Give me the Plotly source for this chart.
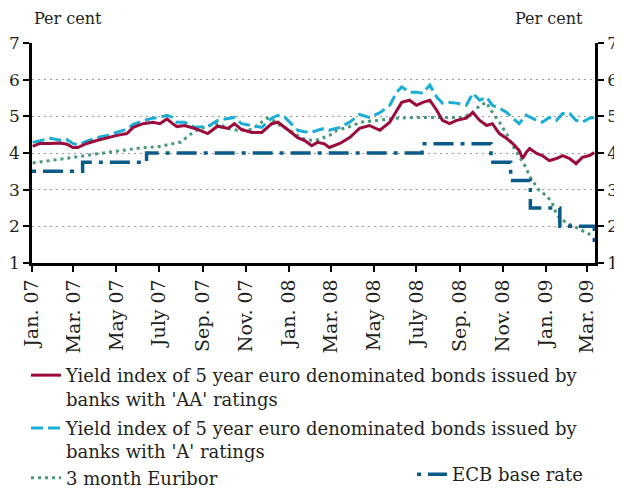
import plotly.graph_objects as go

# Yield index, banks rated 'AA' (per cent)
aa_fechas = [
    "2007-01-02", "2007-01-12", "2007-01-27", "2007-02-10", "2007-02-20", "2007-02-28",
    "2007-03-07", "2007-03-20", "2007-04-03", "2007-04-18", "2007-05-02", "2007-05-16",
    "2007-05-25", "2007-06-08", "2007-06-22", "2007-07-02", "2007-07-12", "2007-07-20",
    "2007-07-26", "2007-08-06", "2007-08-21", "2007-09-08", "2007-09-22", "2007-10-07",
    "2007-10-16", "2007-10-26", "2007-11-10", "2007-11-24", "2007-12-08", "2007-12-17",
    "2007-12-27", "2008-01-05", "2008-01-14", "2008-01-24", "2008-02-03", "2008-02-11",
    "2008-02-21", "2008-02-28", "2008-03-14", "2008-03-28", "2008-04-11", "2008-04-25",
    "2008-05-10", "2008-05-24", "2008-06-03", "2008-06-10", "2008-06-21", "2008-07-01",
    "2008-07-10", "2008-07-20", "2008-07-30", "2008-08-07", "2008-08-17", "2008-08-27",
    "2008-09-10", "2008-09-19", "2008-09-29", "2008-10-09", "2008-10-17", "2008-10-27",
    "2008-11-06", "2008-11-15", "2008-11-24", "2008-11-29", "2008-12-04", "2008-12-09",
    "2008-12-19", "2008-12-27", "2009-01-06", "2009-01-16", "2009-01-25", "2009-02-04",
    "2009-02-13", "2009-02-22", "2009-03-04", "2009-03-11",
]
aa_valores = [
    4.18, 4.26, 4.26, 4.27, 4.24, 4.15,
    4.15, 4.26, 4.34, 4.42, 4.48, 4.53,
    4.70, 4.80, 4.84, 4.80, 4.93, 4.80,
    4.72, 4.75, 4.67, 4.53, 4.73, 4.67,
    4.80, 4.64, 4.56, 4.56, 4.80, 4.84,
    4.70, 4.56, 4.42, 4.34, 4.20, 4.29,
    4.25, 4.15, 4.26, 4.42, 4.67, 4.75,
    4.62, 4.84, 5.16, 5.38, 5.44, 5.30,
    5.38, 5.44, 5.16, 4.89, 4.80, 4.89,
    4.95, 5.11, 4.89, 4.75, 4.80, 4.53,
    4.40, 4.26, 4.07, 3.85, 4.01, 4.12,
    3.99, 3.93, 3.79, 3.85, 3.93, 3.85,
    3.71, 3.88, 3.93, 4.01,
]

# Yield index, banks rated 'A' (per cent)
a_fechas = [
    "2007-01-02", "2007-01-12", "2007-01-27", "2007-02-10", "2007-02-20", "2007-02-28",
    "2007-03-07", "2007-03-20", "2007-04-03", "2007-04-18", "2007-05-02", "2007-05-16",
    "2007-05-25", "2007-06-08", "2007-06-22", "2007-07-02", "2007-07-12", "2007-07-20",
    "2007-07-26", "2007-08-06", "2007-08-21", "2007-09-08", "2007-09-22", "2007-10-07",
    "2007-10-16", "2007-10-26", "2007-11-10", "2007-11-24", "2007-12-08", "2007-12-17",
    "2007-12-27", "2008-01-05", "2008-01-14", "2008-01-24", "2008-02-03", "2008-02-11",
    "2008-02-21", "2008-02-28", "2008-03-14", "2008-03-28", "2008-04-11", "2008-04-25",
    "2008-05-10", "2008-05-24", "2008-06-03", "2008-06-10", "2008-06-21", "2008-07-01",
    "2008-07-10", "2008-07-20", "2008-07-30", "2008-08-07", "2008-08-17", "2008-08-27",
    "2008-09-10", "2008-09-19", "2008-09-29", "2008-10-09", "2008-10-17", "2008-10-27",
    "2008-11-06", "2008-11-15", "2008-11-24", "2008-12-04", "2008-12-19", "2008-12-27",
    "2009-01-06", "2009-01-16", "2009-01-25", "2009-02-04", "2009-02-13", "2009-02-22",
    "2009-03-04", "2009-03-11",
]
a_valores = [
    4.29, 4.33, 4.40, 4.35, 4.36, 4.26,
    4.22, 4.32, 4.42, 4.48, 4.56, 4.65,
    4.78, 4.88, 4.95, 4.97, 5.03, 4.97,
    4.84, 4.84, 4.70, 4.72, 4.89, 4.95,
    4.97, 4.80, 4.75, 4.70, 4.95, 5.03,
    4.97, 4.80, 4.62, 4.58, 4.56, 4.62,
    4.67, 4.62, 4.70, 4.84, 5.05, 4.97,
    5.10, 5.30, 5.66, 5.80, 5.66, 5.66,
    5.63, 5.85, 5.52, 5.36, 5.38, 5.36,
    5.30, 5.63, 5.44, 5.52, 5.30, 5.22,
    5.11, 4.95, 4.80, 5.03, 4.89, 4.84,
    4.97, 4.89, 5.08, 5.08, 4.89, 4.84,
    4.95, 4.97,
]

# 3 month Euribor (per cent)
euribor_fechas = [
    "2007-01-02", "2007-02-01", "2007-03-01", "2007-04-01", "2007-05-01", "2007-06-01",
    "2007-07-02", "2007-08-01", "2007-08-10", "2007-08-21", "2007-09-08", "2007-09-24",
    "2007-10-05", "2007-10-20", "2007-11-10", "2007-11-20", "2007-12-01", "2007-12-10",
    "2007-12-20", "2008-01-01", "2008-01-10", "2008-01-20", "2008-02-03", "2008-02-13",
    "2008-02-28", "2008-03-10", "2008-03-25", "2008-04-13", "2008-05-07", "2008-06-01",
    "2008-07-03", "2008-08-18", "2008-09-04", "2008-09-19", "2008-09-29", "2008-10-09",
    "2008-10-13", "2008-10-27", "2008-11-06", "2008-11-15", "2008-11-24", "2008-12-04",
    "2008-12-09", "2008-12-16", "2008-12-23", "2009-01-02", "2009-01-10", "2009-01-17",
    "2009-01-30", "2009-02-17", "2009-03-04", "2009-03-11",
]
euribor_valores = [
    3.73, 3.80, 3.88, 3.97, 4.05, 4.13,
    4.18, 4.30, 4.45, 4.60, 4.74, 4.80,
    4.67, 4.62, 4.64, 4.78, 4.95, 4.89,
    4.75, 4.64, 4.53, 4.40, 4.34, 4.37,
    4.48, 4.62, 4.70, 4.84, 4.89, 4.95,
    4.97, 4.97, 4.97, 5.08, 5.30, 5.38,
    5.22, 4.84, 4.53, 4.20, 3.93, 3.60,
    3.36, 3.16, 2.97, 2.84, 2.64, 2.29,
    2.10, 1.93, 1.79, 1.72,
]

# ECB base rate (per cent), fecha de entrada en vigor
ecb_fechas = [
    "2007-01-01", "2007-03-14", "2007-06-13", "2008-07-09", "2008-10-15",
    "2008-11-12", "2008-12-10", "2009-01-21", "2009-03-11",
]
ecb_valores = [3.5, 3.75, 4.0, 4.25, 3.75, 3.25, 2.5, 2.0, 1.5]

tick_fechas = [
    "2007-01-01", "2007-03-01", "2007-05-01", "2007-07-01", "2007-09-01", "2007-11-01",
    "2008-01-01", "2008-03-01", "2008-05-01", "2008-07-01", "2008-09-01", "2008-11-01",
    "2009-01-01", "2009-03-01",
]
tick_textos = [
    "Jan. 07", "Mar. 07", "May 07", "July 07", "Sep. 07", "Nov. 07",
    "Jan. 08", "Mar. 08", "May 08", "July 08", "Sep. 08", "Nov. 08",
    "Jan. 09", "Mar. 09",
]

FUENTE = "DejaVu Serif"
TEXTO = "#231f20"

fig = go.Figure()

fig.add_trace(go.Scatter(
    x=euribor_fechas, y=euribor_valores, mode="lines", name="3 month Euribor",
    line=dict(color="#4a9a78", width=3, dash="3px,4px"),
    legendrank=3, legendgroup="b",
))
fig.add_trace(go.Scatter(
    x=a_fechas, y=a_valores, mode="lines",
    name="Yield index of 5 year euro denominated bonds issued by<br>banks with 'A' ratings",
    line=dict(color="#1aaed6", width=3, dash="12px,5px"),
    legendrank=2, legendgroup="b",
))
fig.add_trace(go.Scatter(
    x=aa_fechas, y=aa_valores, mode="lines",
    name="Yield index of 5 year euro denominated bonds issued by<br>banks with 'AA' ratings",
    line=dict(color="#9b0a3c", width=3),
    legendrank=1, legendgroup="a",
))
fig.add_trace(go.Scatter(
    x=ecb_fechas, y=ecb_valores, mode="lines", name="ECB base rate",
    line=dict(color="#0a5a8a", width=3.5, dash="4px,7px,20px,7px", shape="hv"),
    yaxis="y2", legend="legend2",
))

eje_y = dict(
    range=[1, 7], dtick=1, tick0=1, showline=True, linecolor="black", linewidth=2.5,
    ticks="outside", ticklen=6, tickwidth=2, tickcolor="black", automargin=False,
    tickfont=dict(family=FUENTE, size=17, color=TEXTO), zeroline=False,
)

# El body de la página tiene 8 px de margen por lado: la figura se queda en
# 614x481 para que la página no tenga barras de desplazamiento.
fig.update_layout(
    width=614, height=481,
    margin=dict(l=24, r=27, t=35, b=226, autoexpand=False),
    paper_bgcolor="white", plot_bgcolor="white",
    font=dict(family=FUENTE, color=TEXTO),
    xaxis=dict(
        type="date", range=["2007-01-01", "2009-03-12"],
        tickvals=tick_fechas, ticktext=tick_textos, tickangle=-90,
        tickfont=dict(family=FUENTE, size=19, color=TEXTO),
        showline=True, linecolor="black", linewidth=2.5, automargin=False,
        ticks="outside", ticklen=6, tickwidth=2, tickcolor="black",
        showgrid=False, zeroline=False,
    ),
    yaxis=dict(**eje_y, side="left", showgrid=True, gridcolor="#9a9a9a",
               griddash="2px,4px", gridwidth=1.2),
    yaxis2=dict(**eje_y, side="right", overlaying="y", showgrid=False),
    legend=dict(
        x=-0.0107, xanchor="left", y=-0.427, yanchor="top",
        orientation="v", font=dict(family=FUENTE, size=18, color=TEXTO),
        bgcolor="rgba(0,0,0,0)", tracegroupgap=3, itemwidth=30, valign="top",
    ),
    legend2=dict(
        x=0.675, xanchor="left", y=-0.877, yanchor="top",
        orientation="v", font=dict(family=FUENTE, size=18, color=TEXTO),
        bgcolor="rgba(0,0,0,0)", itemwidth=30,
    ),
    annotations=[
        dict(text="Per cent", x=0, y=1, xref="paper", yref="paper", xanchor="left",
             yanchor="middle", yshift=25, showarrow=False,
             font=dict(family=FUENTE, size=16, color=TEXTO)),
        dict(text="Per cent", x=1, y=1, xref="paper", yref="paper", xanchor="right",
             yanchor="middle", yshift=25, xshift=-10, showarrow=False,
             font=dict(family=FUENTE, size=16, color=TEXTO)),
    ],
)

fig.write_html("out.html")
